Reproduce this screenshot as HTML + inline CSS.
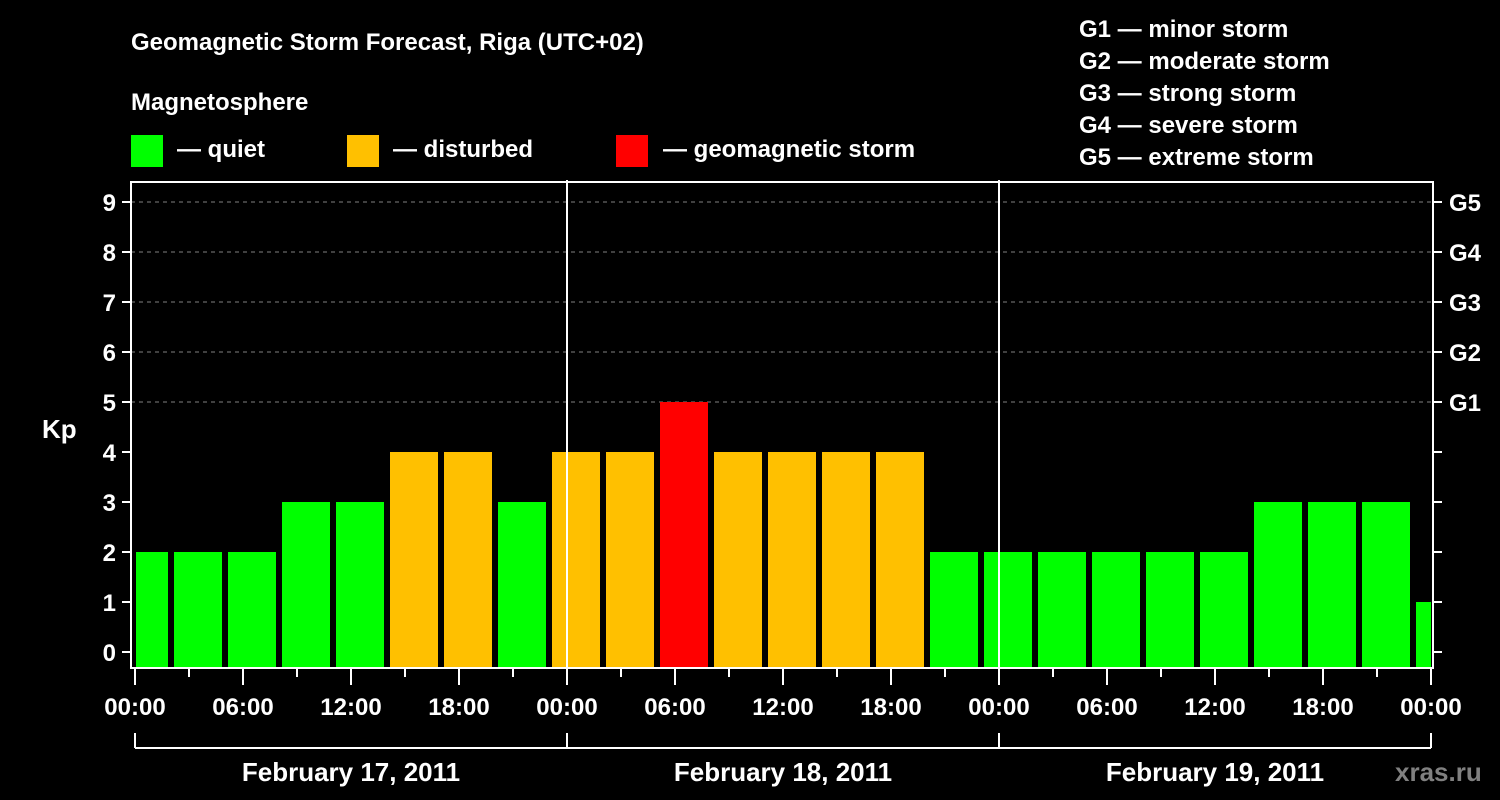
<!DOCTYPE html>
<html><head><meta charset="utf-8"><style>
body{margin:0;background:#000;}
svg{display:block;font-family:"Liberation Sans",Arial,sans-serif;font-weight:bold;}
</style></head><body>
<svg id="c" width="1500" height="800" viewBox="0 0 1500 800">
<rect width="1500" height="800" fill="#000"/>
<text x="131" y="50" fill="#fff" font-size="24">Geomagnetic Storm Forecast, Riga (UTC+02)</text>
<text x="131" y="110" fill="#fff" font-size="24">Magnetosphere</text>
<g>
<rect x="131" y="135" width="32" height="32" fill="#00ff00"/>
<text x="177" y="157" fill="#fff" font-size="24">— quiet</text>
<rect x="347" y="135" width="32" height="32" fill="#ffc000"/>
<text x="393" y="157" fill="#fff" font-size="24">— disturbed</text>
<rect x="616" y="135" width="32" height="32" fill="#ff0000"/>
<text x="663" y="157" fill="#fff" font-size="24">— geomagnetic storm</text>
</g>
<g fill="#fff" font-size="24">
<text x="1079" y="37">G1 — minor storm</text>
<text x="1079" y="69">G2 — moderate storm</text>
<text x="1079" y="101">G3 — strong storm</text>
<text x="1079" y="133">G4 — severe storm</text>
<text x="1079" y="165">G5 — extreme storm</text>
</g>
<text x="42" y="438" fill="#fff" font-size="26">Kp</text>
<g id="grid"></g><g id="bars"></g><g id="axes"></g>
<text x="1395" y="781" fill="#808080" font-size="26">xras.ru</text>
</svg>
<script>
const kpValues=[2,2,2,3,3,4,4,3,4,4,5,4,4,4,4,2,2,2,2,2,2,3,3,3,1];
const binStartHours=[-1,2,5,8,11,14,17,20,23,26,29,32,35,38,41,44,47,50,53,56,59,62,65,68,71];
const kpTicks=[0,1,2,3,4,5,6,7,8,9];
const gLabels=["G1","G2","G3","G4","G5"];
const gLevels=[5,6,7,8,9];
const hourLabels=["00:00","06:00","12:00","18:00","00:00","06:00","12:00","18:00","00:00","06:00","12:00","18:00","00:00"];
const dayLabels=["February 17, 2011","February 18, 2011","February 19, 2011"];
const NS="http://www.w3.org/2000/svg";
const X0=135,PX_H=18,L=131,R=1433,T=182,B=668;
const x=h=>X0+h*PX_H;
const y=v=>652-v*50;
function mk(tag,attrs,parent,text){const e=document.createElementNS(NS,tag);for(const k in attrs)e.setAttribute(k,attrs[k]);if(text!=null)e.textContent=text;document.getElementById(parent).appendChild(e);return e;}
gLevels.forEach((g,i)=>{
const ln=mk('line',{x1:L,x2:R,y1:y(g),y2:y(g),stroke:'#808080','stroke-width':1,'stroke-dasharray':'4,4'},'grid');


const t=mk('text',{x:1449,y:y(g)+9,fill:'#fff','font-size':24},'axes',gLabels[i]);


});
kpValues.forEach((v,i)=>{
const h=binStartHours[i];
let x1=Math.max(x(h)+3,X0+1),x2=Math.min(x(h+3)-3,R-2);
const c=v>=5?'#ff0000':(v>=4?'#ffc000':'#00ff00');
const r=mk('rect',{x:x1,y:y(v),width:x2-x1,height:B-y(v),fill:c},'bars');


});
[1,2].forEach(d=>{mk('line',{x1:x(24*d),x2:x(24*d),y1:T-2,y2:B,stroke:'#fff','stroke-width':2},'axes');});
const fr=mk('rect',{x:L,y:T,width:R-L,height:B-T,fill:'none',stroke:'#fff','stroke-width':2},'axes');


kpTicks.forEach(k=>{
mk('line',{x1:L-9,x2:L,y1:y(k),y2:y(k),stroke:'#fff','stroke-width':2},'axes');
mk('line',{x1:R,x2:R+9,y1:y(k),y2:y(k),stroke:'#fff','stroke-width':2},'axes');
const t=mk('text',{x:L-15,y:y(k)+9,fill:'#fff','font-size':24,'text-anchor':'end'},'axes',String(k));


});
for(let h=0;h<=72;h+=3){
const long=h%6===0;
mk('line',{x1:x(h),x2:x(h),y1:B,y2:B+(long?17:9),stroke:'#fff','stroke-width':2},'axes');
}
hourLabels.forEach((lab,i)=>{
const t=mk('text',{x:x(i*6),y:715,fill:'#fff','font-size':24,'text-anchor':'middle'},'axes',lab);


});
mk('line',{x1:x(0),x2:x(72),y1:748,y2:748,stroke:'#fff','stroke-width':2},'axes');
for(let d=0;d<=3;d++)mk('line',{x1:x(24*d),x2:x(24*d),y1:733,y2:748,stroke:'#fff','stroke-width':2},'axes');
dayLabels.forEach((lab,i)=>{
const t=mk('text',{x:x(24*i+12),y:781,fill:'#fff','font-size':26,'text-anchor':'middle'},'axes',lab);


});
</script>
</body></html>
